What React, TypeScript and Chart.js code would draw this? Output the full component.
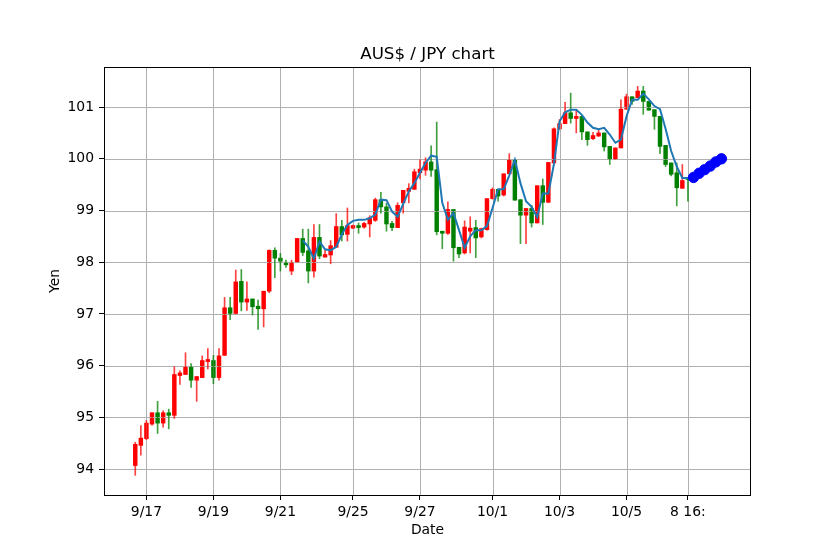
import React, { useEffect, useRef } from "react";
import { Chart, registerables } from "chart.js";

Chart.register(...registerables);

// 4-hour candles (index positions on the x axis)
const opens = [
  94.07, 94.46, 94.59, 94.87, 95.09, 94.89, 95.09, 95.04, 95.81, 95.83,
  95.98, 95.72, 95.77, 96.08, 96.10, 95.77, 96.20, 97.12, 97.01, 97.63,
  97.23, 97.29, 97.15, 97.10, 97.44, 98.23, 98.08, 98.00, 97.83, 98.00,
  98.46, 98.22, 97.83, 98.48, 98.10, 98.14, 98.29, 98.69, 98.54, 98.66,
  98.71, 98.68, 98.74, 98.81, 99.21, 99.07, 98.75, 98.67, 99.15, 99.37,
  99.41, 99.73, 99.78, 99.94, 99.79, 98.60, 98.56, 99.02, 98.29, 98.18,
  98.60, 98.67, 98.49, 98.63, 99.23, 99.41, 99.30, 99.71, 99.98, 99.21,
  98.91, 99.04, 98.76, 99.48, 99.16, 99.92, 100.58, 100.68, 100.89, 100.78,
  100.82, 100.52, 100.39, 100.44, 100.50, 100.24, 99.99, 100.21, 100.96, 101.20,
  101.18, 101.31, 101.11, 100.95, 100.82, 100.26, 99.92, 99.73, 99.43, 99.64,
];
const highs = [
  94.52, 94.84, 94.94, 95.09, 95.31, 95.13, 95.16, 95.98, 95.90, 96.25,
  96.04, 95.79, 96.19, 96.33, 96.20, 96.33, 97.32, 97.32, 97.85, 97.86,
  97.62, 97.29, 97.27, 97.44, 98.24, 98.28, 98.17, 98.04, 98.04, 98.46,
  98.64, 98.64, 98.73, 98.73, 98.24, 98.42, 98.94, 98.81, 99.05, 98.72,
  98.76, 98.77, 98.90, 99.24, 99.35, 99.14, 98.79, 99.15, 99.39, 99.52,
  99.80, 99.98, 100.02, 100.25, 100.71, 98.60, 99.17, 99.02, 98.29, 98.80,
  98.88, 98.81, 98.66, 99.23, 99.44, 99.41, 99.71, 100.10, 99.98, 99.21,
  99.04, 99.10, 99.48, 99.61, 99.93, 100.60, 100.76, 101.09, 101.27, 100.95,
  100.82, 100.52, 100.51, 100.57, 100.50, 100.24, 100.21, 101.14, 101.25, 101.20,
  101.40, 101.40, 101.11, 100.95, 100.82, 100.26, 99.92, 99.92, 99.89, 99.64,
];
const lows = [
  93.88, 94.27, 94.57, 94.85, 94.69, 94.81, 94.78, 94.98, 95.64, 95.83,
  95.58, 95.31, 95.77, 95.94, 95.65, 95.72, 96.20, 96.89, 97.00, 97.06,
  97.07, 96.98, 96.70, 96.75, 97.41, 97.70, 97.83, 97.90, 97.76, 98.00,
  98.13, 97.60, 97.71, 98.07, 98.10, 97.97, 98.29, 98.41, 98.41, 98.65,
  98.56, 98.66, 98.49, 98.79, 98.95, 98.60, 98.61, 98.67, 98.95, 99.15,
  99.41, 99.61, 99.68, 99.66, 98.53, 98.26, 98.54, 98.02, 98.09, 98.16,
  98.18, 98.09, 98.47, 98.62, 99.22, 99.18, 99.28, 99.71, 99.20, 98.36,
  98.36, 98.68, 98.76, 98.73, 99.15, 99.90, 100.57, 100.68, 100.69, 100.50,
  100.37, 100.26, 100.37, 100.43, 100.15, 99.89, 99.99, 100.21, 100.96, 101.05,
  101.18, 100.86, 100.94, 100.57, 100.10, 99.85, 99.67, 99.09, 99.43, 99.18,
];
const closes = [
  94.48, 94.60, 94.89, 95.09, 94.89, 95.09, 95.04, 95.83, 95.86, 95.98,
  95.72, 95.79, 96.10, 96.12, 95.77, 96.19, 97.12, 97.01, 97.62, 97.23,
  97.29, 97.14, 97.10, 97.44, 98.23, 98.08, 98.02, 97.95, 98.00, 98.46,
  98.19, 97.83, 98.48, 98.12, 98.15, 98.32, 98.69, 98.53, 98.71, 98.71,
  98.67, 98.75, 98.86, 99.21, 99.07, 98.74, 98.67, 99.10, 99.39, 99.43,
  99.75, 99.80, 99.94, 99.78, 98.59, 98.56, 99.02, 98.28, 98.16, 98.68,
  98.66, 98.47, 98.65, 99.23, 99.41, 99.28, 99.71, 99.98, 99.20, 98.91,
  99.04, 98.76, 99.48, 99.16, 99.93, 100.58, 100.68, 100.89, 100.78, 100.82,
  100.52, 100.37, 100.45, 100.50, 100.23, 100.00, 100.21, 100.96, 101.20, 101.11,
  101.31, 101.11, 100.94, 100.82, 100.24, 99.89, 99.70, 99.44, 99.58, 99.60,
];

// fitted line (starts at index 30)
const fitStart = 30;
const fitValues = [
  98.42, 98.30, 98.07, 98.40, 98.25, 98.23, 98.30, 98.54, 98.72, 98.80,
  98.82, 98.82, 98.85, 98.92, 99.21, 99.20, 98.98, 98.88, 99.13, 99.37,
  99.53, 99.73, 99.92, 100.06, 100.04, 99.15, 98.82, 98.95, 98.62, 98.28,
  98.50, 98.62, 98.62, 98.70, 99.05, 99.41, 99.41, 99.68, 99.98, 99.53,
  99.18, 99.07, 98.87, 99.33, 99.33, 99.90, 100.72, 100.90, 100.95, 100.95,
  100.85, 100.70, 100.60, 100.57, 100.60, 100.47, 100.31, 100.37, 100.82, 101.14,
  101.14, 101.26, 101.15, 101.02, 100.96, 100.58, 100.15, 99.85, 99.63, 99.63,
  99.64,
];

// forecast points (start at index 100)
const forecastStart = 100;
const forecastValues = [99.64, 99.72, 99.79, 99.86, 99.94, 100.0];

const xTickPositions = [2, 14, 26, 39, 51, 64, 76, 88, 99];
const xTickLabels = ["9/17", "9/19", "9/21", "9/25", "9/27", "10/1", "10/3", "10/5", "8 16:"];
const yTickValues = [94, 95, 96, 97, 98, 99, 100, 101];

const chartTitle = "AUS$ / JPY chart";
const xAxisTitle = "Date";
const yAxisTitle = "Yen";

const UP = "#ff0000";
const DOWN = "#008000";
const GRID = "#b0b0b0";
const FONT = "'DejaVu Sans', sans-serif";

export default function App() {
  const ref = useRef<HTMLCanvasElement>(null);

  useEffect(() => {
    const canvas = ref.current;
    if (!canvas) return;
    const idx = opens.map((_, i) => i);
    const isUp = idx.map((i) => closes[i] >= opens[i]);
    const bodyData = idx.map((i) => ({ x: i, y: [opens[i], closes[i]] }));
    const wickData = idx.map((i) => ({ x: i, y: [lows[i], highs[i]] }));
    const fitData = fitValues.map((v, k) => ({ x: fitStart + k, y: v }));
    const fcData = forecastValues.map((v, k) => ({ x: forecastStart + k, y: v }));

    const BODY_INDEX = 3;

    const drawGrid = (chart: any) => {
      const { ctx, chartArea: a, scales } = chart;
      ctx.save();
      ctx.strokeStyle = GRID;
      ctx.lineWidth = 1;
      ctx.beginPath();
      scales.x.ticks.forEach((t: any) => {
        const px = Math.round(scales.x.getPixelForValue(t.value)) + 0.5;
        ctx.moveTo(px, a.top);
        ctx.lineTo(px, a.bottom);
      });
      scales.y.ticks.forEach((t: any) => {
        const py = Math.round(scales.y.getPixelForValue(t.value)) + 0.5;
        ctx.moveTo(a.left, py);
        ctx.lineTo(a.right, py);
      });
      ctx.stroke();
      ctx.restore();
    };

    const decor = {
      id: "decor",
      beforeDatasetsDraw(chart: any) {
        drawGrid(chart);
      },
      afterDatasetDraw(chart: any, args: any) {
        if (args.index !== BODY_INDEX) return;
        drawGrid(chart);
      },
      afterDraw(chart: any) {
        const { ctx, chartArea: a } = chart;
        ctx.save();
        ctx.strokeStyle = "#000";
        ctx.lineWidth = 1;
        ctx.strokeRect(Math.round(a.left) + 0.5, Math.round(a.top) + 0.5, Math.round(a.right - a.left) - 1, Math.round(a.bottom - a.top));
        ctx.fillStyle = "#000";
        ctx.textAlign = "center";
        ctx.textBaseline = "alphabetic";
        ctx.font = `16.7px ${FONT}`;
        const cx = (a.left + a.right) / 2;
        ctx.fillText(chartTitle, cx, a.top - 8.5);
        ctx.font = `13.9px ${FONT}`;
        ctx.textBaseline = "middle";
        ctx.fillText(xAxisTitle, cx, a.bottom + 35);
        ctx.translate(55, (a.top + a.bottom) / 2);
        ctx.rotate(-Math.PI / 2);
        ctx.fillText(yAxisTitle, 0, 0);
        ctx.restore();
      },
    };

    const chart = new Chart(canvas, {
      type: "bar",
      data: {
        datasets: [
          {
            type: "scatter",
            data: fcData,
            backgroundColor: "#0000ff",
            borderColor: "#0000ff",
            pointRadius: 5.2,
            pointHoverRadius: 5.2,
            order: 0,
          } as any,
          {
            type: "line",
            data: fitData,
            borderColor: "#1f77b4",
            borderWidth: 2,
            pointRadius: 0,
            tension: 0,
            fill: false,
            order: 1,
          } as any,
          {
            type: "bar",
            data: wickData,
            backgroundColor: isUp.map((u) => (u ? "rgba(255,0,0,0.75)" : "rgba(0,128,0,0.75)")),
            borderWidth: 0,
            barThickness: 1,
            grouped: false,
            minBarLength: 1,
            order: 2,
          } as any,
          {
            type: "bar",
            data: bodyData,
            backgroundColor: isUp.map((u) => (u ? UP : DOWN)),
            borderWidth: 0,
            barThickness: 3.8,
            grouped: false,
            minBarLength: 1,
            order: 3,
          } as any,
        ],
      },
      options: {
        responsive: false,
        animation: false,
        devicePixelRatio: 1,
        layout: { padding: { top: 67, right: 83, bottom: 0, left: 0 } },
        plugins: {
          legend: { display: false },
          tooltip: { enabled: false },
          title: { display: false },
        },
        scales: {
          x: {
            type: "linear",
            offset: false,
            min: -5.6,
            max: 110.3,
            afterFit: (s: any) => {
              s.height = 61;
            },
            afterBuildTicks: (s: any) => {
              s.ticks = xTickPositions.map((v) => ({ value: v }));
            },
            ticks: {
              autoSkip: false,
              maxRotation: 0,
              minRotation: 0,
              padding: 4,
              color: "#000",
              font: { family: FONT, size: 13.9 },
              callback: (_v: any, i: number) => xTickLabels[i],
            },
            grid: {
              offset: false,
              drawOnChartArea: false,
              color: GRID,
              lineWidth: 1,
              tickColor: "#000",
              tickLength: 5,
              drawTicks: true,
            },
            border: { display: false },
          },
          y: {
            type: "linear",
            min: 93.5,
            max: 101.775,
            afterFit: (s: any) => {
              s.width = 104;
            },
            afterBuildTicks: (s: any) => {
              s.ticks = yTickValues.map((v) => ({ value: v }));
            },
            ticks: {
              padding: 5,
              color: "#000",
              font: { family: FONT, size: 13.9 },
              callback: (v: any) => String(v),
            },
            grid: {
              offset: false,
              drawOnChartArea: false,
              color: GRID,
              lineWidth: 1,
              tickColor: "#000",
              tickLength: 5,
              drawTicks: true,
            },
            border: { display: false },
          },
        },
      } as any,
      plugins: [decor],
    });

    return () => chart.destroy();
  }, []);

  return (
    <div style={{ position: "absolute", left: 0, top: 0, width: 834, height: 556, background: "#fff" }}>
      <canvas ref={ref} width={834} height={556} style={{ display: "block", width: 834, height: 556 }} />
    </div>
  );
}
